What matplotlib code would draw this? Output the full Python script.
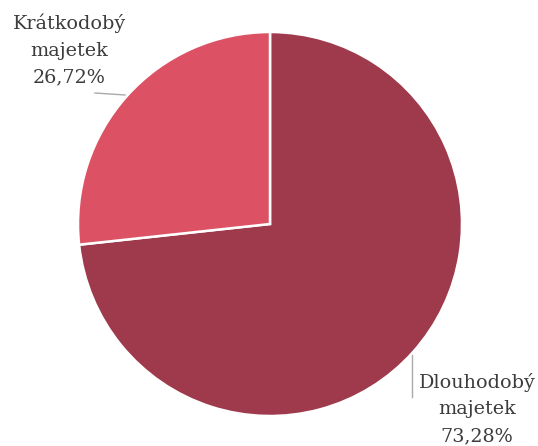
import matplotlib
matplotlib.use("Agg")
import matplotlib.pyplot as plt

labels = ["Dlouhodobý\nmajetek", "Krátkodobý\nmajetek"]
values = [73.28, 26.72]
colors = ["#9e3a4c", "#dc5264"]

W, H = 538, 446
fig = plt.figure(figsize=(W / 100, H / 100), dpi=100)
ax = fig.add_axes([0, 0, 1, 1])

cx, cy, r = 270, H - 224, 192
ax.pie(values, colors=colors, startangle=90, counterclock=False,
       center=(cx, cy), radius=r, frame=True,
       wedgeprops=dict(edgecolor="white", linewidth=1.8))
ax.set_xlim(0, W)
ax.set_ylim(0, H)
ax.set_aspect("equal")
ax.axis("off")

txt = dict(family="DejaVu Serif", fontsize=13.8, color="#3c3c3c",
           ha="center", va="center", linespacing=1.6)

def fmt(v):
    return "{:.2f}%".format(v).replace(".", ",")

# Krátkodobý label (upper left)
ax.text(69, H - 50, labels[1] + "\n" + fmt(values[1]), **txt)
ax.plot([95, 125], [H - 93, H - 95], color="#aaaaaa", lw=1)

# Dlouhodobý label (lower right)
ax.text(477, H - 409, labels[0] + "\n" + fmt(values[0]), **txt)
ax.plot([412, 412], [H - 355, H - 397], color="#aaaaaa", lw=1)

fig.savefig("out.png", dpi=100)
